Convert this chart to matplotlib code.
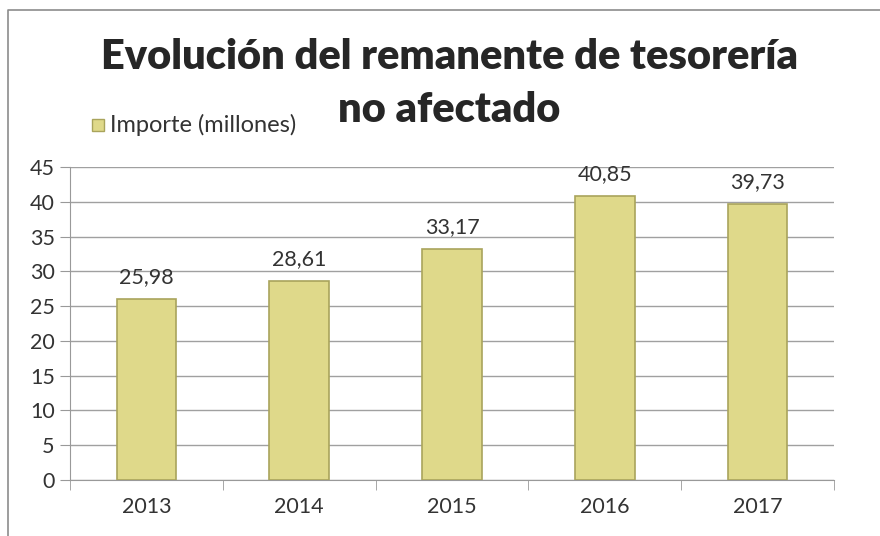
import matplotlib.pyplot as plt
import numpy as np
from matplotlib.patches import Rectangle

plt.rcParams['font.family'] = ['Lato', 'DejaVu Sans']

anios = ['2013', '2014', '2015', '2016', '2017']
importe = [25.98, 28.61, 33.17, 40.85, 39.73]
etiquetas = ['25,98', '28,61', '33,17', '40,85', '39,73']

fig = plt.figure(figsize=(8.8, 5.36), dpi=100)
ax = fig.add_axes([70/880, 1-480/536, 764/880, 313/536])

x = np.arange(len(anios))
ax.bar(x, importe, width=0.39, color='#dfd98a', edgecolor='#a9a45c', linewidth=1.2, zorder=3)

for xi, v, t in zip(x, importe, etiquetas):
    ax.text(xi, v + 1.7, t, ha='center', va='bottom', fontsize=15.5, color='#333333')

ax.set_xlim(-0.5, len(anios) - 0.5)
ax.set_ylim(0, 45)
ax.set_yticks(range(0, 46, 5))
ax.set_xticks(x)
ax.set_xticklabels(anios)
ax.set_xticks(np.arange(-0.5, len(anios), 1), minor=True)
ax.tick_params(axis='x', which='major', length=0, pad=12, labelsize=15.5, labelcolor='#333333')
ax.tick_params(axis='x', which='minor', length=7, color='#999999')
ax.tick_params(axis='y', length=7, color='#999999', labelsize=15.5, labelcolor='#333333', pad=4)
ax.grid(axis='y', color='#a0a0a0', linewidth=1, zorder=0)
for s in ['top', 'right']:
    ax.spines[s].set_visible(False)
for s in ['left', 'bottom']:
    ax.spines[s].set_color('#999999')

fig.text(0.511, 0.893, 'Evolución del remanente de tesorería', ha='center', va='center',
         fontsize=30, fontweight='heavy', color='#262626')
fig.text(0.511, 0.795, 'no afectado', ha='center', va='center',
         fontsize=30, fontweight='heavy', color='#262626')

# legend
fig.patches.append(Rectangle((92/880, 1-131/536), 12/880, 12/536, transform=fig.transFigure,
                             facecolor='#dfd98a', edgecolor='#a9a45c', linewidth=1))
fig.text(110/880, 1-125/536, 'Importe (millones)', ha='left', va='center', fontsize=17, color='#333333')

# frame
fig.add_artist(plt.Line2D([8/880, 8/880, 1], [0, 1-10/536, 1-10/536], transform=fig.transFigure,
                          color='#8c8c8c', linewidth=1.2))

fig.savefig('out.png', dpi=100)
